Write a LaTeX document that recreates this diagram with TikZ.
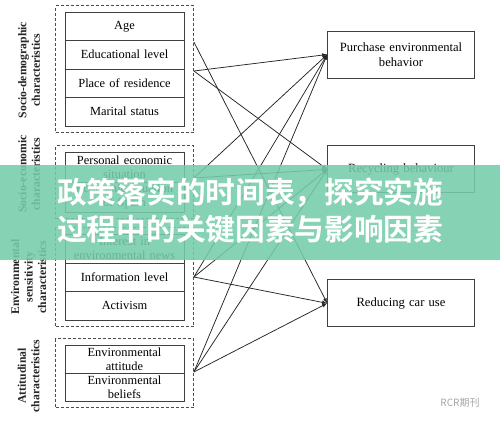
\documentclass[tikz,border=0pt]{standalone}
\usepackage{fontspec}
\setmainfont{Liberation Serif}
\newfontfamily\cjk{Noto Sans CJK SC Bold}
\newfontfamily\cjklight{Noto Sans CJK SC}
\usetikzlibrary{positioning,fit}

\begin{document}
\begin{tikzpicture}[x=1pt, y=-1pt, >=latex,
    item/.style={draw=black!75, line width=0.9pt, outer sep=0pt, inner sep=0pt, minimum width=119pt, text width=117pt, align=center, font=\fontsize{12.4}{14}\selectfont},
    group/.style={draw=black!70, dash pattern=on 3pt off 2pt, line width=0.8pt, inner xsep=9.5pt, inner ysep=6.5pt},
    side label/.style={rotate=90, align=center, text=black!85, font=\bfseries\fontsize{11.7}{13.5}\selectfont},
    behavior/.style={draw=black!75, line width=0.9pt, minimum width=144pt, minimum height=47pt, text width=140pt, align=center, font=\fontsize{12.6}{14.5}\selectfont},
    link/.style={->, draw=black!85, line width=0.75pt},
    banner/.style={fill={rgb,255:red,118;green,204;blue,170}, fill opacity=0.88},
    title/.style={anchor=west, inner sep=0pt, text=white, font=\cjk\fontsize{29.7}{30}\selectfont}]

  \fill[white] (0,0) rectangle (500,424);
  \useasboundingbox (0,0) rectangle (500,424);

  \node[item, minimum height=28.5pt] (age) at (124.5,26.25) {Age};
  \node[item, minimum height=28.5pt, below=0pt of age] (edu) {Educational level};
  \node[item, minimum height=28.5pt, below=0pt of edu] (home) {Place of residence};
  \node[item, minimum height=28.5pt, below=0pt of home] (mar) {Marital status};
  \node[group, fit=(age)(mar)] (g1) {};
  \node[side label] (l1) at (29,70) {Socio-demographic\\characteristics};

  \node[item, minimum height=30pt] (econ) at (124.5,167) {Personal economic\\situation};
  \node[item, minimum height=30pt, below=0pt of econ] (spain) {Economic situation\\of Spain};
  \node[group, fit=(econ)(spain)] (g2) {};
  \node[side label] (l2) at (29,174) {Socio-economic\\characteristics};

  \node[item, minimum height=29pt] (news) at (124.5,248.5) {Interest in\\environmental news};
  \node[item, minimum height=28.5pt, below=0pt of news] (info) {Information level};
  \node[item, minimum height=28.5pt, below=0pt of info] (act) {Activism};
  \node[group, fit=(news)(act)] (g3) {};
  \node[side label] (l3) at (28.5,277) {Environmental\\sensitivity\\characteristics};

  \node[item, minimum height=28pt] (att) at (124.5,359) {Environmental\\attitude};
  \node[item, minimum height=28pt, below=0pt of att] (bel) {Environmental\\beliefs};
  \node[group, fit=(att)(bel)] (g4) {};
  \node[side label] (l4) at (28.5,376) {Attitudinal\\characteristics};

  \node[behavior] (buy) at (401,54.5) {Purchase environmental\\behavior};
  \node[behavior, below=67pt of buy] (recycle) {Recycling behaviour};
  \node[behavior, below=86pt of recycle] (car) {Reducing car use};

  \coordinate (s1) at (g1.east |- 0,42);
  \coordinate (s2) at (g1.east |- 0,71);
  \coordinate (s3) at (g2.east |- 0,178);
  \coordinate (s4) at (g3.east |- 0,277);
  \coordinate (s5) at (g4.east |- 0,372);

  \draw[link] (s1) -- (car.west);
  \draw[link] (s2) -- (buy.west);
  \draw[link] (s2) -- (recycle.west);

  \draw[link] (s3) -- (buy.west);
  \draw[link] (s3) -- (recycle.west);

  \draw[link] (s4) -- (buy.west);
  \draw[link] (s4) -- (recycle.west);
  \draw[link] (s4) -- (car.west);

  \draw[link] (s5) -- (buy.west);
  \draw[link] (s5) -- (recycle.west);
  \draw[link] (s5) -- (car.west);

  \fill[banner] (0,165) rectangle (500,260);
  \node[title] (t1) at (57,193) {政策落实的时间表，探究实施};
  \node[title] (t2) at (57,229.5) {过程中的关键因素与影响因素};

  \node[text=black!35, font=\cjklight\fontsize{10}{10}\selectfont] (wm) at (460,403) {RCR期刊};
\end{tikzpicture}
\end{document}
